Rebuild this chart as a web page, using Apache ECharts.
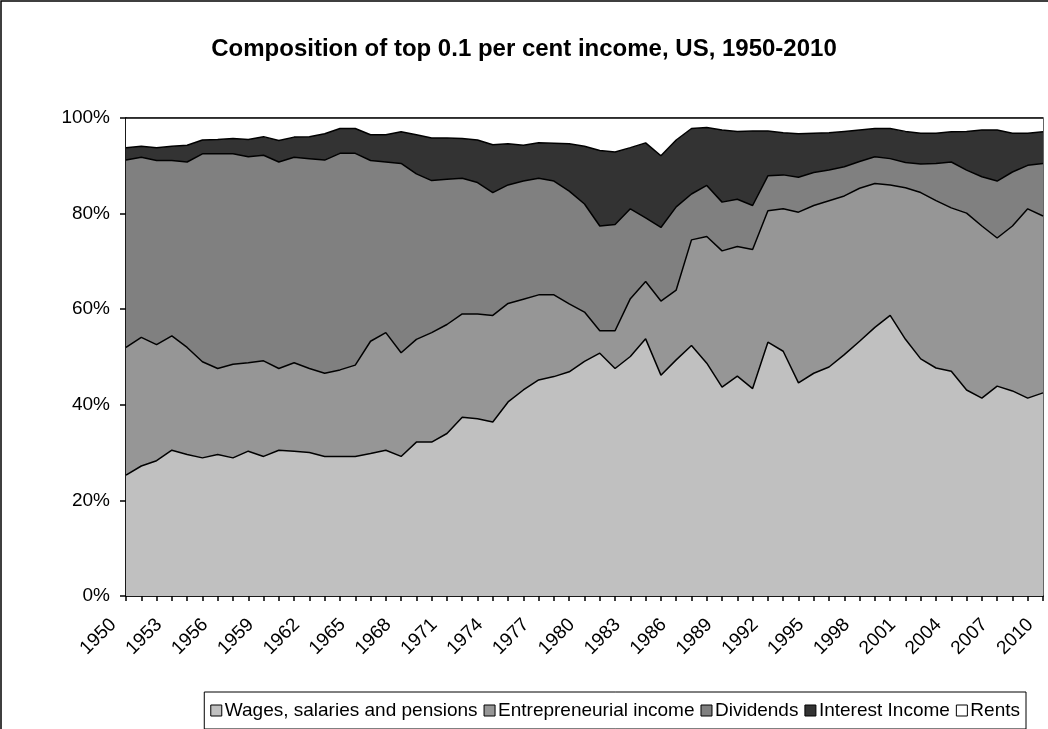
<!DOCTYPE html>
<html>
<head>
<meta charset="utf-8">
<script src="https://cdn.jsdelivr.net/npm/echarts@6/dist/echarts.min.js"></script>
<style>
  html, body { margin: 0; padding: 0; background: #fff; }
  #chart { width: 1048px; height: 729px; }
</style>
</head>
<body>
<div id="chart"></div>
<script>
var years = [];
for (var y = 1950; y <= 2010; y++) years.push(String(y));

// shares of top 0.1% income, per cent
var wages = [25.3, 27.2, 28.3, 30.5, 29.6, 28.9, 29.6, 28.9, 30.3, 29.2,
  30.5, 30.3, 30.0, 29.2, 29.2, 29.2, 29.8, 30.5, 29.2, 32.2,
  32.2, 34.0, 37.4, 37.1, 36.4, 40.6, 43.1, 45.2, 45.9, 46.9,
  49.1, 50.8, 47.6, 50.1, 53.8, 46.2, 49.4, 52.4, 48.7, 43.7,
  46.0, 43.4, 53.1, 51.2, 44.6, 46.6, 47.9, 50.5, 53.3, 56.2,
  58.7, 53.7, 49.6, 47.7, 47.0, 43.1, 41.4, 43.9, 42.9, 41.4, 42.5];

var entrepreneurial = [26.7, 26.9, 24.3, 23.9, 22.4, 20.1, 18.0, 19.6, 18.5, 20.0,
  17.1, 18.5, 17.6, 17.4, 18.1, 19.1, 23.5, 24.6, 21.7, 21.5,
  22.9, 22.8, 21.6, 21.9, 22.3, 20.6, 19.0, 17.8, 17.1, 14.2,
  10.3, 4.7, 7.9, 12.1, 12.0, 15.5, 14.6, 22.1, 26.5, 28.5,
  27.1, 29.1, 27.5, 29.8, 35.7, 35.1, 34.8, 33.2, 32.0, 30.1,
  27.3, 31.7, 34.8, 35.0, 34.2, 37.0, 36.0, 31.0, 34.5, 39.6, 37.0];

var dividends = [39.2, 37.7, 38.5, 36.7, 38.8, 43.5, 44.9, 44.0, 43.1, 43.0,
  43.2, 43.0, 43.9, 44.6, 45.3, 44.3, 37.8, 35.7, 39.6, 34.6,
  31.8, 30.4, 28.4, 27.5, 25.7, 24.8, 24.7, 24.4, 23.8, 23.6,
  22.6, 21.9, 22.2, 18.8, 13.3, 15.4, 17.4, 9.6, 10.7, 10.2,
  9.9, 9.2, 7.3, 7.1, 7.3, 6.9, 6.4, 6.1, 5.6, 5.6,
  5.5, 5.3, 6.0, 7.8, 9.6, 9.0, 10.3, 11.9, 11.3, 9.1, 11.0];

var interest = [2.6, 2.3, 2.7, 3.0, 3.5, 2.9, 3.0, 3.2, 3.6, 3.9,
  4.5, 4.2, 4.6, 5.5, 5.2, 5.2, 5.4, 5.7, 6.6, 8.2,
  8.9, 8.6, 8.3, 8.9, 10.0, 8.6, 7.5, 7.4, 7.9, 9.9,
  12.1, 15.8, 15.2, 12.8, 15.7, 15.0, 14.0, 13.7, 12.1, 15.1,
  14.2, 15.6, 9.4, 8.8, 9.1, 8.2, 7.8, 7.4, 6.6, 5.9,
  6.3, 6.5, 6.4, 6.3, 6.3, 8.1, 9.8, 10.7, 8.1, 6.7, 6.6];

var rents = [6.2, 5.9, 6.2, 5.9, 5.7, 4.6, 4.5, 4.3, 4.5, 3.9,
  4.7, 4.0, 3.9, 3.3, 2.2, 2.2, 3.5, 3.5, 2.9, 3.5,
  4.2, 4.2, 4.3, 4.6, 5.6, 5.4, 5.7, 5.2, 5.3, 5.4,
  5.9, 6.8, 7.1, 6.2, 5.2, 7.9, 4.6, 2.2, 2.0, 2.5,
  2.8, 2.7, 2.7, 3.1, 3.3, 3.2, 3.1, 2.8, 2.5, 2.2,
  2.2, 2.8, 3.2, 3.2, 2.9, 2.8, 2.5, 2.5, 3.2, 3.2, 2.9];

var seriesNames = ['Wages, salaries and pensions', 'Entrepreneurial income', 'Dividends', 'Interest Income', 'Rents'];
var seriesData = [wages, entrepreneurial, dividends, interest, rents];
var seriesColors = ['#c0c0c0', '#969696', '#808080', '#333333', '#ffffff'];

var font = 'Liberation Sans, Arial, sans-serif';
var chart = echarts.init(document.getElementById('chart'));

var option = {
  backgroundColor: '#fff',
  animation: false,
  title: {
    text: 'Composition of top 0.1 per cent income, US, 1950-2010',
    left: 'center',
    top: 32,
    textStyle: { fontFamily: font, fontSize: 24, fontWeight: 'bold', color: '#000' }
  },
  legend: {
    data: seriesNames,
    right: 22,
    bottom: 0,
    icon: 'rect',
    itemWidth: 11,
    itemHeight: 11,
    itemGap: 6,
    padding: [9, 6, 9, 6],
    borderColor: '#000',
    borderWidth: 1,
    textStyle: { fontFamily: font, fontSize: 19, color: '#000', padding: [0, 0, 0, -2] },
    itemStyle: { borderColor: '#000', borderWidth: 1 }
  },
  grid: {
    left: 126,
    top: 118,
    right: 5,
    bottom: 133,
    show: true,
    borderColor: '#333',
    borderWidth: 1.5
  },
  xAxis: {
    type: 'category',
    data: years,
    boundaryGap: false,
    axisLine: { lineStyle: { color: '#000', width: 1.5 } },
    axisTick: { show: true, interval: 0, length: 5, lineStyle: { color: '#000', width: 1.5 } },
    axisLabel: {
      interval: 2,
      rotate: 45,
      margin: 13,
      padding: [0, 18, 0, 0],
      fontFamily: font,
      fontSize: 19,
      color: '#000'
    },
    splitLine: { show: false }
  },
  yAxis: {
    type: 'value',
    min: 0,
    max: 100,
    interval: 20,
    axisLine: { show: true, lineStyle: { color: '#000', width: 1.5 } },
    axisTick: { show: true, length: 6, lineStyle: { color: '#000', width: 1.5 } },
    axisLabel: { formatter: '{value}%', fontFamily: font, fontSize: 19, color: '#000', margin: 16 },
    splitLine: { show: false }
  },
  graphic: [{
    type: 'rect',
    shape: { x: 1, y: 1, width: 1100, height: 800 },
    style: { fill: 'none', stroke: '#000', lineWidth: 1.5 },
    silent: true
  }],
  series: seriesNames.map(function (name, i) {
    return {
      name: name,
      type: 'line',
      stack: 'total',
      data: seriesData[i],
      symbol: 'none',
      itemStyle: { color: seriesColors[i], borderColor: '#000', borderWidth: 1 },
      lineStyle: { color: '#000', width: 1.5 },
      areaStyle: { color: seriesColors[i], opacity: 1 }
    };
  })
};
chart.setOption(option);
</script>
</body>
</html>
